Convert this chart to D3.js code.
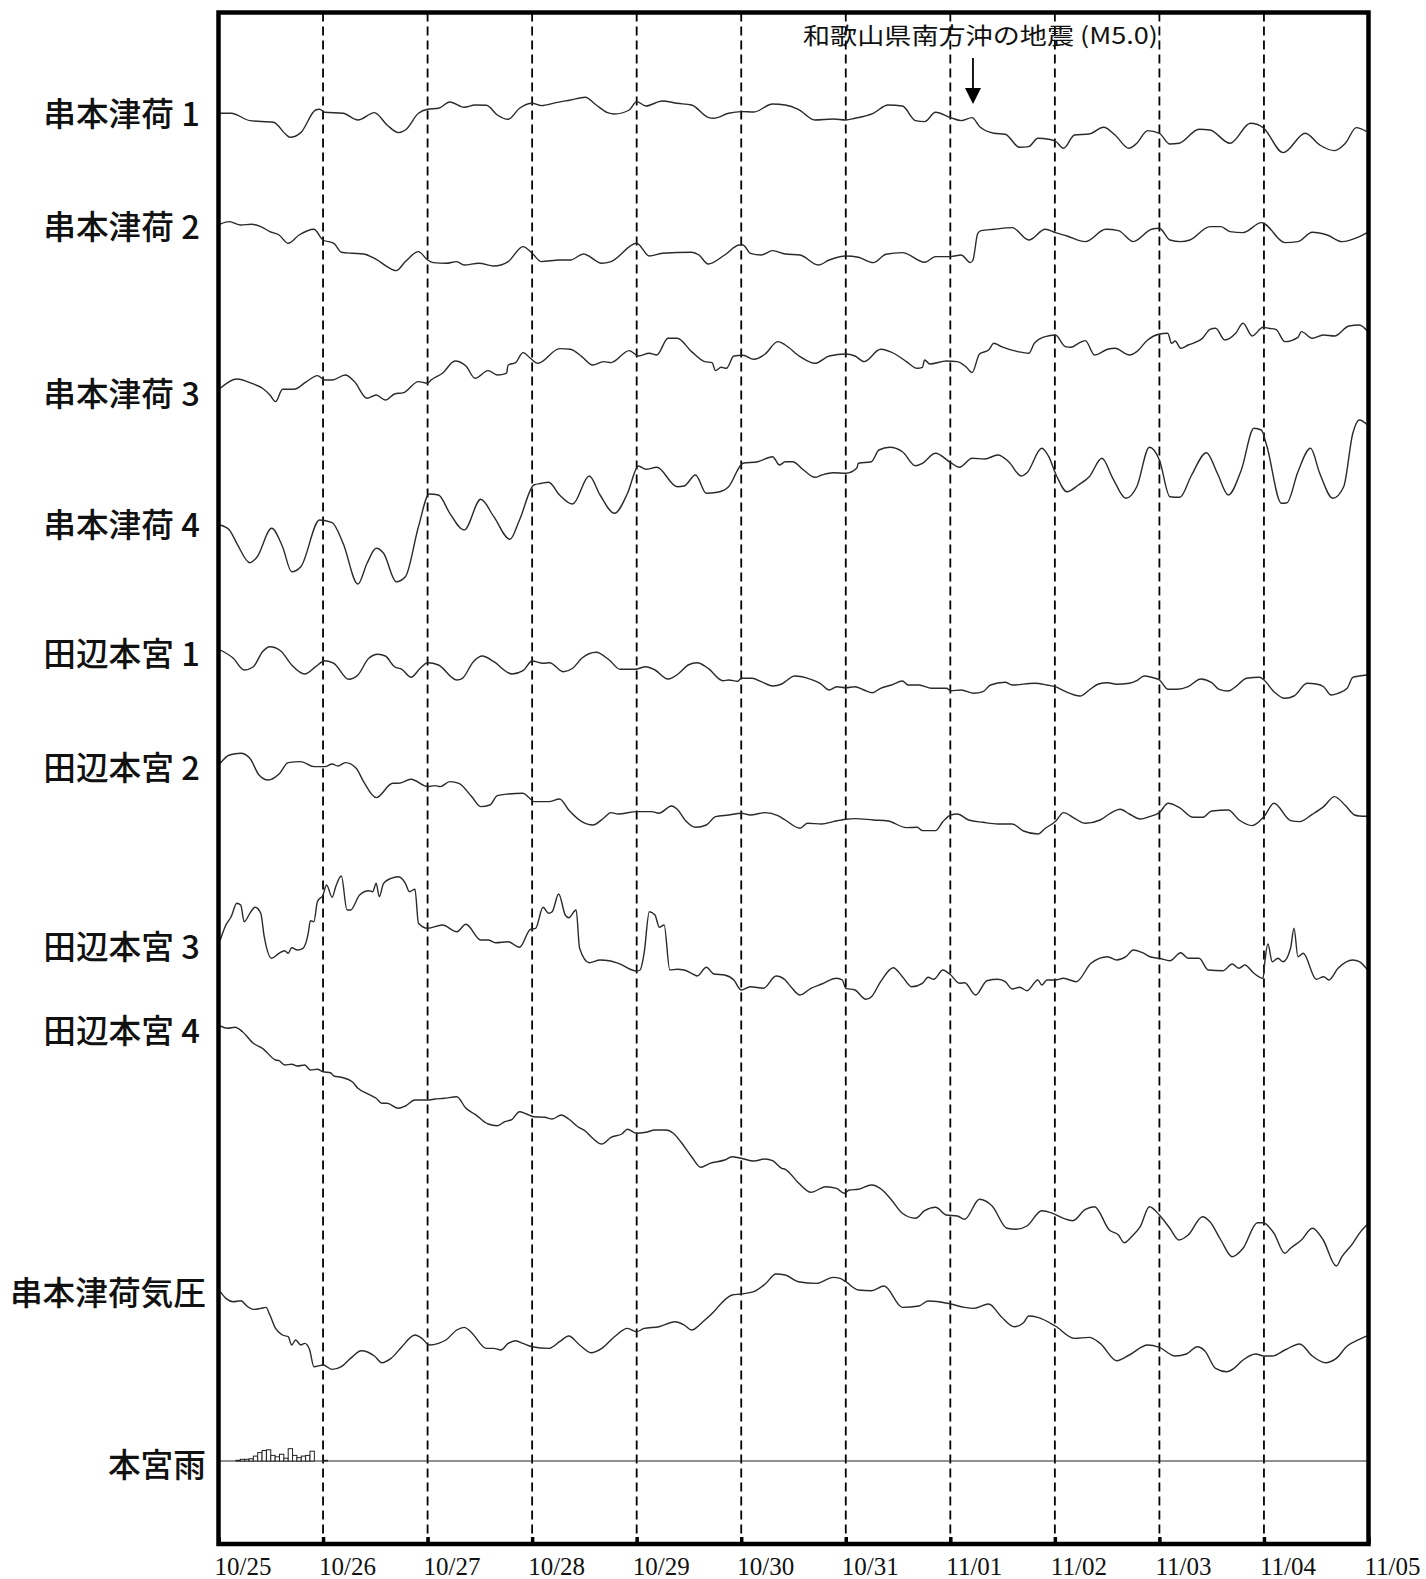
<!DOCTYPE html>
<html><head><meta charset="utf-8">
<script src="https://cdn.jsdelivr.net/npm/d3@7/dist/d3.min.js"></script>
<style>body{margin:0;background:#fff}svg{display:block}</style>
</head><body>
<svg id="chart" width="1426" height="1579"></svg>
<script>
// ---------- DATA (hours since 10/25 00:00, relative value; up = positive) ----------
const dayLabels = ["10/25","10/26","10/27","10/28","10/29","10/30","10/31","11/01","11/02","11/03","11/04","11/05"];
const seriesNames = ["串本津荷 1","串本津荷 2","串本津荷 3","串本津荷 4","田辺本宮 1","田辺本宮 2","田辺本宮 3","田辺本宮 4","串本津荷気圧"];
const rainName = "本宮雨";
const eventLabel = "和歌山県南方沖の地震 (M5.0)";
const eventHour = 173.2;

const kushimoto1 = [[0.4,0],[2.9,0],[7.2,-7.3],[12.6,-9],[15.6,-21.7],[16.4,-24],[18.9,-19.3],[22.3,3.3],[23.2,4],[24.4,1],[28.6,0],[32,-6.7],[35.8,0.7],[38.7,-11.7],[41.3,-19.3],[42.9,-16.7],[45.9,0],[48,4],[50.5,5],[53.1,11.3],[56.4,6],[58.9,8.3],[61.5,8],[64,-1.7],[66.5,-6],[69.1,5],[72,10],[74.1,7.7],[77.5,10.7],[80.8,13.3],[84.2,16],[86.7,8.3],[89.3,0.7],[90.9,-0.7],[94.3,3.3],[96,11.7],[98.1,7.3],[101.9,12.3],[105.3,10],[108.6,8.3],[112.4,-4],[113.7,-5],[117.1,0],[120,1.7],[122.9,1.3],[127.2,9.3],[130.1,8.3],[133.1,4],[136.9,-6.7],[141.1,-5.7],[144,-6.7],[146.1,-5],[150.3,0],[153.7,8.3],[157,7.3],[160,-7.3],[162.1,-8.3],[164.6,1],[168.1,-4.3],[170.5,-7.3],[173,-4.3],[174.7,-13.3],[178,-20],[180.6,-21],[183.9,-34],[186,-33.3],[188.1,-25],[190.6,-26],[192.1,-27.7],[194,-35],[196.5,-21.7],[199.9,-20.7],[203.2,-14],[205.8,-21.7],[209,-35],[210.8,-30],[213.3,-17.3],[216,-20],[218.4,-30.7],[220.5,-30],[225.1,-16],[227.6,-16.7],[232.2,-30],[236.9,-10],[239.8,-14.3],[244.4,-39.3],[249.5,-20],[252.8,-31.7],[256.2,-37.3],[258.7,-30],[261.2,-14.3],[263.5,-18]];

const kushimoto2 = [[0.4,-0.7],[2.5,1.7],[5.1,-1.7],[7.6,-1],[9.7,-3.3],[11.8,-8.3],[13.9,-11.7],[16,-20],[18.5,-11.7],[21.9,-6],[24,-16.7],[26.5,-20],[28.2,-29],[30.7,-30],[33.3,-30.7],[36.2,-36],[38.7,-43.3],[40.8,-47.3],[42.9,-38.3],[45.9,-28.3],[48,-36.7],[49.3,-39.3],[52.2,-40],[54.7,-38.3],[56.4,-41.7],[59.8,-40],[63.2,-42.7],[66.5,-38.3],[69.9,-23.3],[72,-30],[74.1,-38.3],[78.3,-36.7],[80.8,-36.7],[83.8,-30.7],[88,-40],[90.1,-38.3],[96,-20],[98.9,-32.7],[101.9,-30],[108.6,-29],[110.3,-31.7],[112.4,-40.7],[116.2,-31.7],[119.6,-21.7],[120.4,-21.7],[122.1,-30],[124.6,-31.7],[127.2,-27.3],[130.1,-30.7],[133.5,-31.7],[137.7,-41.7],[140.2,-36.7],[144,-32.7],[146.9,-34],[150.3,-39.3],[153.2,-31],[157,-29.3],[162.1,-39],[164.6,-33.3],[168.1,-33.3],[170.5,-31.7],[172.6,-39.3],[173.2,-36.7],[174.3,-10],[175.1,-7.3],[178,-6],[182.2,-4.3],[186,-16.7],[189.8,-6],[192.1,-9.3],[194.8,-12.7],[199,-18.3],[203.7,-6],[206.6,-7.3],[210,-18.3],[214.2,-6],[216,-5],[218.4,-16.7],[220.9,-18.3],[223,-16.7],[227.6,-3.3],[230.1,-3.3],[232.2,-8.3],[235.2,-9.3],[239.4,0.7],[240.2,-0.7],[244.8,-19.3],[247.8,-18.3],[251.1,-9],[254.5,-11.7],[257.9,-18.3],[261.9,-13.3],[263.8,-9]];

const kushimoto3 = [[0.4,0],[4.2,9.3],[7.6,5],[10.1,0],[11.8,-6.7],[13.1,-13.3],[14.7,-1],[17.3,-1],[20.2,6.7],[22.7,12.7],[24.4,8.3],[26.1,8.3],[29.1,13.3],[31.2,6.7],[34.1,-10],[36.2,-6.7],[38.3,-11.7],[40.4,-5.7],[42.5,-4.3],[45.9,6.7],[48,5],[48.8,8.3],[51.4,15],[54.3,27.3],[56.8,22.3],[58.9,10],[61.9,17.7],[64,13.3],[66.1,15],[66.5,23.3],[68.2,25.7],[69.9,35.7],[71.6,30],[73.3,25],[78.3,39.7],[80.8,39],[83.4,31.7],[85.9,23.3],[88.4,26.7],[90.1,25.7],[94.3,37.7],[96.4,32.3],[98.9,35],[100.6,33.3],[103.2,50],[105.3,50],[108.6,36.7],[111.6,26.7],[113.3,25.7],[114.1,17.7],[115.4,21],[116.6,20],[118.3,32.3],[120.4,33],[122.9,29],[125.5,34.3],[128.4,46.7],[130.1,43.3],[133.5,31.7],[136.9,25],[140.2,32.3],[144,34.3],[146.1,32.3],[148.2,26.7],[152,39],[155.3,34.3],[157.9,26.7],[160.4,20],[161.6,21],[162.1,28.3],[163.3,24.3],[167.1,27.3],[169.6,26.7],[171.7,21],[173,15.7],[174.7,34.3],[176.8,38.3],[178,45],[179.7,41.7],[183.5,36.7],[186,35],[187.3,45],[189.8,51.7],[192.1,53.3],[194.4,41.7],[195.7,41],[197.4,45],[199,47.7],[201.1,33.3],[204.1,39],[205.8,40],[209.1,33.3],[210.8,36.7],[213.3,48.3],[215.8,54],[217.9,55],[218.8,45],[219.6,47.3],[220.9,40],[222.6,43.3],[225.9,50],[227.6,59],[228.9,60],[231,48.3],[233.5,55],[235.2,65],[237.3,52.3],[239.8,61],[241.1,60],[242.7,59],[244.8,46.7],[247.8,51],[248.6,56.7],[251.1,50],[253.6,53.3],[256.2,52.3],[259.5,62.3],[261.9,63.3],[263.8,57]];

const kushimoto4 = [[0.4,0],[2.5,-5],[4.2,-18.3],[7.2,-37.7],[8.8,-32.3],[12.2,-3.3],[14.7,-21.7],[16.8,-46.7],[18.9,-41.7],[23.2,5],[26.1,2.3],[28.6,-18.3],[32,-59],[34.1,-38.3],[36.2,-23.3],[37.9,-28.3],[40.8,-56.7],[42.9,-51.7],[45.9,-1.7],[48.4,31],[50.5,30],[53.1,11.7],[56.4,-5],[60.2,25.7],[63.2,8.3],[66.9,-14.3],[69.1,5],[72.4,40],[74.1,41.7],[75.8,42.7],[78.3,30],[81.3,21],[85.1,49],[87.6,30],[90.9,11.7],[93.9,31.7],[96.4,59],[98.1,55.7],[100.6,57.7],[105.3,38.3],[106.9,39],[109.5,50],[112,31.7],[114.5,32.7],[117.1,38.3],[120.4,61.7],[123.8,63.3],[127.2,68.3],[128.8,60],[130.1,63.3],[131.8,63.3],[134.3,55],[136.9,47.7],[138.5,50],[141.1,52.3],[144,51.7],[146.5,56.7],[146.9,61.7],[149.9,63.3],[151.6,75],[154.1,77.7],[157,73.3],[160,59.3],[161.6,61.7],[164.6,71.7],[168.1,62.3],[170.1,57.7],[173,66.7],[175.9,66],[178.9,70],[181.4,63.3],[184.3,49],[185.6,52.3],[189,76.7],[190.6,68.3],[192.3,50],[194.8,33.3],[197.4,40],[199.9,48.3],[202.8,66.7],[205.3,46.7],[208.3,26.7],[210.8,38.3],[213.7,77.7],[216,65],[218.4,28.3],[220.7,27.7],[223.4,50],[226.8,72.3],[229.3,51.7],[231.8,30],[234.8,55],[237.7,96.7],[239.4,95],[240.6,80],[244,21.7],[245.3,22.3],[247.8,53.3],[250.7,76.7],[252.8,51.7],[255.8,26.7],[258.3,38.3],[260.4,91.7],[261.9,105],[263.8,100]];

const tanabe1 = [[0.4,0],[3.4,-8.3],[5.9,-20],[8,-16.7],[10.1,-1.7],[11.8,3.3],[14.3,-1],[16.8,-15],[19.8,-24],[22.3,-16.7],[24.4,-10.7],[26.5,-13.3],[29.9,-29.3],[32,-25],[34.5,-8.3],[36.6,-4.3],[38.3,-6],[40.4,-16.7],[42.1,-19.3],[44.2,-27.3],[46.3,-18.3],[48,-12.7],[50.5,-15],[54.7,-30],[56,-28.3],[58.5,-11.7],[60.6,-6],[63.2,-11.7],[67.4,-24],[69.9,-20.7],[72,-11],[74.5,-13.3],[76,-12.7],[79.2,-21.7],[81.3,-18.3],[83.4,-8.3],[86.7,-2.3],[89.7,-10],[92.2,-19.3],[95.6,-19.3],[98.1,-16.7],[100.2,-20],[103.2,-29],[105.7,-23.3],[107.8,-15],[109.9,-12.7],[112.4,-18.3],[115.8,-30.7],[117.1,-30],[119.2,-31.3],[120,-28.3],[122.5,-28.3],[124.6,-31.7],[127.2,-36],[129.3,-34],[130.6,-30],[132.2,-26],[136,-29.3],[138.1,-33.3],[140.2,-40],[141.9,-36.7],[144,-37.7],[146.1,-36.7],[148.2,-40],[150.1,-42.7],[152,-38.3],[154.5,-35],[157,-31],[158.3,-35],[160.8,-35],[163.7,-38.3],[167.1,-38.3],[168.1,-40.7],[170.5,-40],[173.4,-43.3],[175.5,-41.7],[177.2,-35],[180.6,-32.3],[182.2,-35],[187.3,-33.3],[190.2,-35],[192.1,-36.7],[194,-40.7],[197.8,-46],[199.9,-40],[202,-34],[204.1,-32.7],[206.2,-34.3],[209.1,-33.3],[210.8,-30.7],[212.5,-26],[214.2,-27.3],[216,-30],[218,-39.3],[220.1,-39.3],[222.6,-36.7],[225.5,-29],[228,-32.7],[229.7,-39.3],[231.8,-41],[233.5,-36.7],[236,-28.3],[239,-27.3],[240,-30],[242.3,-41.7],[244.8,-48.3],[246.9,-46],[249.9,-33.3],[252,-34],[253.7,-36.7],[255.4,-45],[257,-43.3],[259.1,-38.3],[260.4,-27.3],[261.9,-26],[263.8,-25]];

const tanabe2 = [[0.4,0],[2.5,8.3],[5.1,10],[7.2,5],[9.3,-11.7],[11.4,-16.7],[13.9,-10.7],[16,0.7],[18.9,1.7],[21.9,-3.3],[24.4,-3.3],[26.1,-0.7],[27.4,-2.7],[29.1,0.7],[31.6,-5],[33.3,-18.3],[36.2,-34.3],[40,-20],[41.3,-20],[44.2,-16],[48,-23.3],[49.7,-22.3],[50.9,-23.3],[53.1,-18.3],[55.2,-20],[58.1,-33.3],[60.2,-43.3],[62.3,-41.7],[64,-32.3],[66.5,-30.7],[69.9,-30],[71.2,-34],[72.4,-38.3],[75.8,-38.3],[78.3,-35.7],[80.4,-46.7],[83.4,-58.3],[85.9,-61.7],[88.4,-55],[90.1,-49.3],[91.8,-50.7],[96,-48.3],[99.4,-48.3],[101.1,-50],[104,-42.7],[105.3,-46],[107.4,-58.3],[109.5,-64],[112,-61.7],[114.1,-53.3],[117.1,-51.7],[120,-50],[122.1,-51.7],[125.5,-49.3],[128.4,-52.3],[130.1,-56.7],[133.5,-65],[135.2,-60],[138.5,-60.7],[141.1,-58.3],[144,-56],[146.1,-55.3],[150.3,-56.7],[153.7,-57.7],[157.9,-64.3],[160.4,-64],[161.6,-67.3],[164.6,-67.3],[166.3,-58.3],[168.1,-51.7],[169.6,-50.7],[172.2,-56.7],[175.5,-59],[178.9,-60.7],[182.2,-60.7],[184.8,-67.7],[188.1,-70.7],[189.8,-65],[192.1,-58.3],[194,-49.3],[196.5,-55],[199,-60],[202.4,-56.7],[204.5,-50.7],[207,-46],[209.1,-50.7],[211.6,-55.7],[213.7,-53.3],[216,-49.3],[218,-40],[220.5,-44],[223.8,-54],[225.9,-54],[228,-47.7],[231.8,-46.7],[234.3,-56.7],[237.3,-62.3],[240,-53.3],[242.3,-40],[246.1,-57.3],[248.2,-58.3],[251.1,-51],[253.7,-43.3],[256.2,-33.3],[258.7,-42.3],[260.8,-51.7],[261.9,-52.7],[263.8,-53]];

const tanabe3 = [[0.4,0],[1.7,15],[2.9,23.3],[4.2,36.7],[5.1,35],[5.9,18.3],[7.2,26.7],[8.4,32.7],[9.7,26.7],[10.5,3.3],[12.2,-18.3],[13.9,-13.3],[15.2,-10.7],[16,-13.3],[16.8,-7.7],[18.1,-10],[19.4,-8.3],[20.6,6.7],[21.1,19.3],[21.9,18.3],[22.7,38.3],[24,45],[24.8,55],[26.1,42.7],[26.9,53.3],[28.2,64],[29.5,30],[30.3,30],[32.4,45],[34.5,49.3],[35.4,48.3],[36.2,56.7],[36.9,43.3],[37.9,56.7],[39.6,61.7],[41.3,63.3],[42.9,56.7],[43.8,48.3],[45.1,50.7],[45.9,16.7],[48,11.7],[51.4,15],[54.7,8.3],[56.8,15.7],[60.2,0],[61.9,0],[63.6,-2.7],[66.5,-1.7],[69.1,-7.3],[71.6,10.7],[72.8,11.7],[74.5,32.7],[75.8,26.7],[76.6,28.3],[78.1,46],[79.6,25],[80.4,22.3],[82.1,30],[82.9,-8.3],[85.1,-22.7],[87.6,-20],[89.7,-20.7],[91.8,-23.3],[96,-31],[96.8,-30],[97.7,-13.3],[98.9,28.3],[100.2,25],[101.2,12.7],[102.3,15],[103.6,-30],[105.3,-29.3],[106.9,-30],[108.6,-33.3],[109.9,-36],[112,-27.3],[113.7,-34],[116.2,-35],[118.3,-40],[120,-50],[122.1,-46.7],[125.1,-48.3],[128,-36],[130.1,-40],[131.4,-46.7],[133.5,-55],[136,-48.3],[138.5,-44],[141.9,-38.3],[143.2,-40],[144,-48.3],[146.1,-50],[148.6,-59.3],[149.9,-56.7],[152,-41.7],[154.9,-27.7],[157,-36.7],[159.1,-46.7],[161.6,-43.3],[162.9,-37.3],[164.2,-39.3],[166.3,-30],[167.1,-31.7],[168.1,-35],[170.1,-43.3],[171.3,-42.7],[173.8,-55],[176.4,-40.7],[178.9,-39.3],[180.6,-41.7],[182.2,-49],[183.9,-47.3],[185.6,-50.7],[188.1,-40],[189,-45],[190.2,-40],[192.1,-40],[194,-38.3],[196.9,-41.7],[200.3,-23.3],[204.1,-16.7],[206.2,-20],[208.3,-16.7],[210,-10],[212.1,-12.7],[214.2,-17.3],[216,-18.3],[218.4,-20.7],[220.9,-12.7],[222.6,-18.3],[225.1,-18.3],[227.2,-30],[230.6,-30.7],[232.7,-24],[234.3,-28.3],[235.6,-25],[237.7,-33.3],[239.8,-38.3],[240.2,-21.7],[240.9,-4],[241.9,-21.7],[243.2,-18.3],[244.4,-21.7],[246.1,-8.3],[246.9,11.7],[247.8,-16.7],[249,-13.3],[252,-39.3],[253.7,-36.7],[254.9,-40],[257,-28.3],[260.4,-20],[261.9,-21.7],[263.8,-30]];

const tanabe4 = [[0.4,0],[2.1,-2.3],[3.8,-1.3],[5.5,-5.7],[8,-17.3],[10.1,-22.3],[13.1,-34],[13.9,-34.7],[15.2,-39],[16.8,-38.3],[18.1,-40],[19.8,-39],[21.1,-44],[22.7,-43.3],[24,-45.7],[25.7,-46.7],[26.5,-50],[28.2,-51.3],[30.7,-55.7],[32,-62.3],[34.5,-68.3],[36.2,-72.3],[37.5,-77.3],[38.7,-77.3],[41.3,-82.3],[42.9,-80],[45.1,-74],[48,-74],[49.7,-73],[51.8,-72.3],[54.7,-70.7],[56.8,-82.3],[58.9,-88.3],[61.9,-98],[64,-99.7],[65.7,-95.7],[67.4,-93.3],[69.1,-85.7],[70.7,-88],[72.4,-90.7],[74.9,-91.3],[76.6,-93],[78.7,-89],[80.4,-93],[82.5,-100.7],[84.2,-105],[85.9,-112.3],[88,-118],[90.1,-111.3],[92.6,-108],[93.9,-103.3],[96,-107.3],[98.1,-106.3],[100.2,-104],[102.7,-104],[104.4,-107.3],[106.1,-115.7],[108.6,-130.7],[110.7,-141.3],[112.8,-137.3],[116.2,-134],[117.9,-130.7],[120,-132.3],[122.9,-135],[125.5,-133],[127.2,-134.7],[129.3,-142.3],[130.1,-143.3],[133.1,-156.7],[136,-166.3],[139.4,-160.7],[141.9,-162.3],[143.6,-167.3],[144.8,-164],[146.9,-163.3],[149.9,-159],[152.4,-164],[154.5,-174],[157,-187.3],[160,-192.3],[162.1,-184.7],[164.6,-181.3],[167.1,-189],[169.6,-190],[171.3,-193.3],[174.7,-173.3],[177.6,-180],[181,-202.3],[183.1,-203.3],[185.6,-200],[189,-184.7],[191.5,-187.3],[194,-192.3],[196.1,-194.7],[199,-183.3],[201.1,-180.7],[204.5,-204],[206.6,-209],[207.9,-216.7],[209.6,-210.7],[211.6,-200.7],[213.7,-180.7],[216,-189],[218.4,-202.3],[220.5,-214],[222.6,-209],[225.9,-190.7],[227.6,-195.7],[230.1,-214],[232.7,-230.7],[235.2,-222.3],[238.5,-196.7],[239.8,-196.7],[242.3,-207.3],[244.8,-227.3],[246.1,-222.3],[248.6,-214],[251.1,-202.3],[253.6,-214],[256.6,-240],[257.9,-230.7],[260.4,-217.3],[261.9,-207.3],[263.8,-198]];

const pressure = [[0.4,0],[1.7,-6.7],[3.4,-10],[5.1,-9],[6.7,-15],[8,-17.7],[9.7,-16.7],[10.9,-15.7],[11.8,-23.3],[13.1,-36.7],[14.7,-43.3],[16,-45],[16.8,-53.3],[17.7,-48.3],[18.9,-53.3],[19.8,-51.7],[20.9,-57.7],[21.9,-75],[24,-73.3],[26.1,-77.7],[28.2,-75],[30.3,-66.7],[32.8,-59],[35.8,-64.3],[37.5,-71],[39.6,-66.7],[42.1,-55],[45.1,-43.3],[46.7,-46.7],[48.4,-53.3],[50.5,-51.7],[52.2,-48.3],[54.7,-38.3],[56.4,-35.7],[58.1,-41],[61.5,-56.7],[63.2,-56.7],[64.8,-58.3],[66.5,-51.7],[68.2,-49],[69.9,-51.7],[72,-55],[75.8,-56.7],[78.3,-50],[80.4,-44.3],[82.9,-53.3],[85.5,-61],[88,-56.7],[90.9,-45],[93.9,-36.7],[96,-40],[97.7,-36.7],[101.1,-35],[104.8,-30],[106.9,-33.3],[108.6,-38.3],[111.2,-30],[113.7,-20],[115.4,-11.7],[117.9,-3.3],[120,-2.3],[122.9,0],[125.5,7.7],[128,17.7],[130.1,16.7],[133.1,10],[137.3,8.3],[141.1,14.3],[142.7,13.3],[144,10],[146.9,1.7],[149.9,1],[152.8,5.7],[157,-15.7],[160.8,-14.3],[162.9,-9.3],[165.4,-10],[168.1,-12.3],[171.3,-15.7],[173.4,-16.7],[176.8,-12.3],[179.7,-25],[182.7,-35],[184.8,-31],[186,-24.3],[188.1,-25.7],[192.1,-34.3],[196.5,-46.7],[199.9,-45.7],[202.4,-51.7],[206.2,-69],[209.1,-63.3],[213.3,-53.3],[216,-55.7],[219.6,-64.3],[222.2,-62.3],[224.7,-55],[226.4,-59],[228.9,-76.7],[231.4,-80],[233.1,-76.7],[235.2,-68.3],[238.1,-62.3],[240,-64.3],[241.9,-64.3],[244.8,-58.3],[248.2,-52.3],[251.1,-64.3],[254.1,-71],[256.6,-66.7],[259.1,-54.3],[261.9,-47.7],[263.8,-44]];

// hourly rain (mm), first value is hour 4 of 10/25
const rainStartHour = 4;
const rainMM = [0.5,1.2,1.2,1.6,3.5,6,7.5,8,4,3,4.8,2,8.8,4,2.4,3.5,4,7,0,0,0.5];

// ---------- LAYOUT ----------
const W = 1426, H = 1579;
const plot = {left: 218.5, right: 1368.5, top: 12.5, bottom: 1544};
const baseY = [113.3, 223.3, 388.3, 525, 650, 763.3, 940, 1026, 1291.7];
const labelY = [111.5, 224, 391, 522, 651, 765.5, 944, 1028.5, 1290.5];
const labelX = [200, 200, 200, 200, 200, 200, 200, 200, 206];
const rainBaseY = 1461;
const rainLabelY = 1462.5;
const rainLabelX = 206;
const rainPxPerMM = 1.4;

const seriesData = [kushimoto1, kushimoto2, kushimoto3, kushimoto4, tanabe1, tanabe2, tanabe3, tanabe4, pressure];

const svg = d3.select("#chart");
svg.append("rect").attr("width", W).attr("height", H).attr("fill", "#fff");

const x = d3.scaleLinear().domain([0, 264]).range([plot.left, plot.right]);
const dayHours = d3.range(0, 265, 24);

// dashed day lines
svg.append("g").selectAll("line").data(dayHours.slice(1, -1)).join("line")
  .attr("x1", d => x(d)).attr("x2", d => x(d))
  .attr("y1", plot.top).attr("y2", plot.bottom)
  .attr("stroke", "#000").attr("stroke-width", 1.8).attr("stroke-dasharray", "9,5");

// rain baseline
svg.append("line").attr("x1", plot.left).attr("x2", plot.right)
  .attr("y1", rainBaseY).attr("y2", rainBaseY).attr("stroke", "#222").attr("stroke-width", 1.2);

// rain bars
const rainScale = d3.scaleLinear().domain([0, 10]).range([0, 10 * rainPxPerMM]);
const rainData = rainMM.map((v, i) => ({h: rainStartHour + i, v})).filter(d => d.v > 0);
svg.append("g").selectAll("rect").data(rainData).join("rect")
  .attr("x", d => x(d.h)).attr("width", d => x(d.h + 1) - x(d.h))
  .attr("y", d => rainBaseY - rainScale(d.v)).attr("height", d => rainScale(d.v))
  .attr("fill", "#fff").attr("stroke", "#222").attr("stroke-width", 1);

// traces
seriesData.forEach((data, i) => {
  const y = d3.scaleLinear().domain([0, 100]).range([baseY[i], baseY[i] - 100]);
  const line = d3.line().x(d => x(d[0])).y(d => y(d[1])).curve(d3.curveMonotoneX);
  svg.append("path").datum(data).attr("d", line)
    .attr("fill", "none").attr("stroke", "#2a2a2a").attr("stroke-width", 1.4)
    .attr("stroke-linejoin", "round");
});

// frame
svg.append("rect").attr("x", plot.left).attr("y", plot.top)
  .attr("width", plot.right - plot.left).attr("height", plot.bottom - plot.top)
  .attr("fill", "none").attr("stroke", "#000").attr("stroke-width", 4.5);

// bottom axis
const axis = d3.axisBottom(x).tickValues(dayHours).tickSize(-7).tickFormat((d, i) => dayLabels[i]);
const ax = svg.append("g").attr("transform", `translate(0,${plot.bottom})`).call(axis);
ax.select(".domain").remove();
ax.selectAll(".tick line").attr("stroke", "#000").attr("stroke-width", 3.5);
ax.selectAll(".tick text")
  .attr("y", 31).attr("dy", null).attr("x", -4.5)
  .style("text-anchor", "start")
  .style("font-family", "'Liberation Serif','Times New Roman',serif")
  .style("font-size", "25px").attr("fill", "#111");

// series labels
const lblFont = "'Noto Sans CJK JP','Noto Sans',sans-serif";
svg.append("g").selectAll("text").data(seriesNames).join("text")
  .attr("x", (d, i) => labelX[i]).attr("y", (d, i) => labelY[i])
  .attr("text-anchor", "end").attr("dominant-baseline", "central")
  .style("font-family", lblFont).style("font-size", "32.7px").style("font-weight", 500)
  .attr("fill", "#111").text(d => d);
svg.append("text").attr("x", rainLabelX).attr("y", rainLabelY)
  .attr("text-anchor", "end").attr("dominant-baseline", "central")
  .style("font-family", lblFont).style("font-size", "32.7px").style("font-weight", 500)
  .attr("fill", "#111").text(rainName);

// event annotation
const ex = x(eventHour);
svg.append("text").attr("x", 803).attr("y", 44)
  .attr("textLength", 355).attr("lengthAdjust", "spacingAndGlyphs")
  .style("font-family", lblFont).style("font-size", "23px")
  .attr("fill", "#111").text(eventLabel);
svg.append("line").attr("x1", ex).attr("x2", ex).attr("y1", 58).attr("y2", 92)
  .attr("stroke", "#000").attr("stroke-width", 1.8);
svg.append("path").attr("d", d3.line()([[ex - 8, 88], [ex + 8, 88], [ex, 104]]) + "Z")
  .attr("fill", "#000");
</script>
</body></html>
